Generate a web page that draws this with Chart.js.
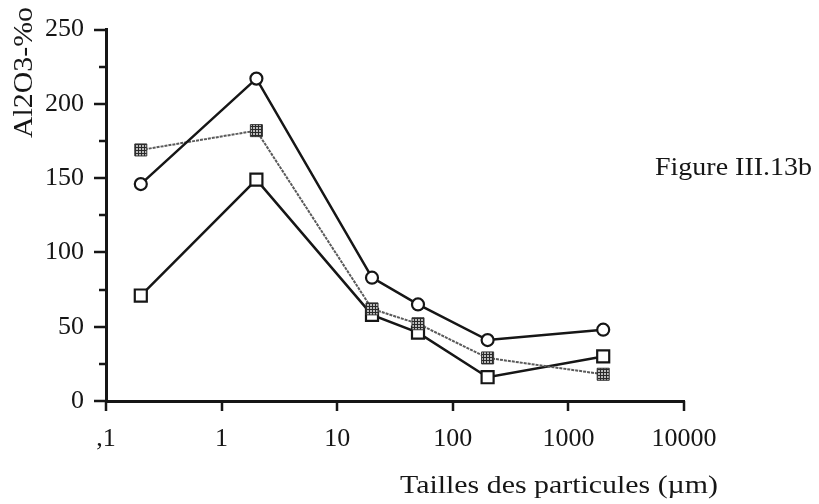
<!DOCTYPE html>
<html>
<head>
<meta charset="utf-8">
<script src="https://cdn.jsdelivr.net/npm/chart.js@4.4.1/dist/chart.umd.min.js"></script>
<style>
  html, body { margin: 0; padding: 0; background: #fff; }
  #wrap { width: 819px; height: 504px; }
</style>
</head>
<body>
<div id="wrap"><canvas id="alChart" width="819" height="504"></canvas></div>
<script>
// particle sizes (µm) and Al2O3 content per size class
const sizes = [0.2, 2, 20, 50, 200, 2000];
const serieCercles = [146, 217, 83, 65, 41, 48];
const serieHachures = [169, 182, 62, 52, 29, 18];
const serieCarres = [71, 149, 58, 46, 16, 30];
const xTicks = [0.1, 1, 10, 100, 1000, 10000];
const yTickStep = 25;

const FONT = '"Liberation Serif", "DejaVu Serif", serif';
const INK = '#161616';

// little cross-hatch tile for the grey square markers
function hatchPattern() {
  const c = document.createElement('canvas');
  c.width = 3; c.height = 3;
  const g = c.getContext('2d');
  g.fillStyle = '#bbb';
  g.fillRect(0, 0, 3, 3);
  g.fillStyle = '#2a2a2a';
  g.fillRect(0, 0, 3, 1);
  g.fillRect(0, 0, 1, 3);
  return g.createPattern(c, 'repeat');
}

const toPoints = vals => vals.map((v, i) => ({ x: sizes[i], y: v }));

// text drawn a little wider than the font's own width
function wideText(ctx, txt, x, y, width) {
  const w = ctx.measureText(txt).width;
  ctx.save();
  ctx.translate(x, y);
  ctx.scale(width / w, 1);
  ctx.fillText(txt, 0, 0);
  ctx.restore();
}

// tick marks (long for labelled values) plus the free text
const decor = {
  id: 'decor',
  afterDraw(chart) {
    const ctx = chart.ctx;
    const xs = chart.scales.x, ys = chart.scales.y;
    const area = chart.chartArea;
    ctx.save();
    ctx.strokeStyle = INK;
    ctx.lineWidth = 2.5;
    ctx.beginPath();
    ys.ticks.forEach(t => {
      const py = Math.round(ys.getPixelForValue(t.value));
      const len = t.value % 50 === 0 ? 12 : 7;
      ctx.moveTo(area.left, py);
      ctx.lineTo(area.left - len, py);
    });
    xs.ticks.forEach(t => {
      const px = Math.round(xs.getPixelForValue(t.value));
      ctx.moveTo(px, area.bottom);
      ctx.lineTo(px, area.bottom + 10);
    });
    ctx.stroke();

    ctx.fillStyle = INK;
    ctx.textBaseline = 'alphabetic';
    ctx.textAlign = 'left';
    ctx.font = '26px ' + FONT;
    wideText(ctx, 'Tailles des particules (µm)', 400, 493, 318);
    wideText(ctx, 'Figure III.13b', 655, 175, 157);

    ctx.translate(32, 138);
    ctx.rotate(-Math.PI / 2);
    ctx.font = '27px ' + FONT;
    wideText(ctx, 'Al2O3-%o', 0, 0, 131);
    ctx.restore();
  }
};

new Chart(document.getElementById('alChart'), {
  type: 'line',
  data: {
    datasets: [
      {
        data: toPoints(serieCercles),
        borderColor: INK,
        borderWidth: 2.5,
        pointStyle: 'circle',
        pointRadius: 6,
        pointBorderWidth: 2.2,
        pointBackgroundColor: '#fff',
        pointBorderColor: INK
      },
      {
        data: toPoints(serieHachures),
        borderColor: '#5a5a5a',
        borderWidth: 2,
        borderDash: [3, 1],
        pointStyle: 'rect',
        pointRadius: 8.5,
        pointBorderWidth: 1,
        pointBackgroundColor: hatchPattern(),
        pointBorderColor: '#333'
      },
      {
        data: toPoints(serieCarres),
        borderColor: INK,
        borderWidth: 2.5,
        pointStyle: 'rect',
        pointRadius: 8.5,
        pointBorderWidth: 2.2,
        pointBackgroundColor: '#fff',
        pointBorderColor: INK
      }
    ]
  },
  options: {
    responsive: false,
    animation: false,
    layout: { padding: { top: 29, right: 135, bottom: 0, left: 0 } },
    elements: { line: { tension: 0, fill: false } },
    plugins: {
      legend: { display: false },
      tooltip: { enabled: false }
    },
    scales: {
      x: {
        type: 'logarithmic',
        min: 0.1,
        max: 10000,
        afterBuildTicks: s => { s.ticks = xTicks.map(v => ({ value: v })); },
        afterFit: s => { s.height = 103; },
        grid: { display: false },
        border: { display: true, color: INK, width: 3 },
        ticks: {
          autoSkip: false,
          maxRotation: 0,
          padding: 15,
          color: INK,
          font: { family: FONT, size: 26 },
          callback: v => (v === 0.1 ? ',1' : String(v))
        }
      },
      y: {
        min: 0,
        max: 250,
        afterFit: s => { s.width = 106; },
        grid: { display: false },
        border: { display: true, color: INK, width: 3 },
        ticks: {
          stepSize: yTickStep,
          padding: 14,
          color: INK,
          font: { family: FONT, size: 26 },
          callback: v => (v % 50 === 0 ? String(v) : '')
        }
      }
    }
  },
  plugins: [decor]
});
</script>
</body>
</html>
